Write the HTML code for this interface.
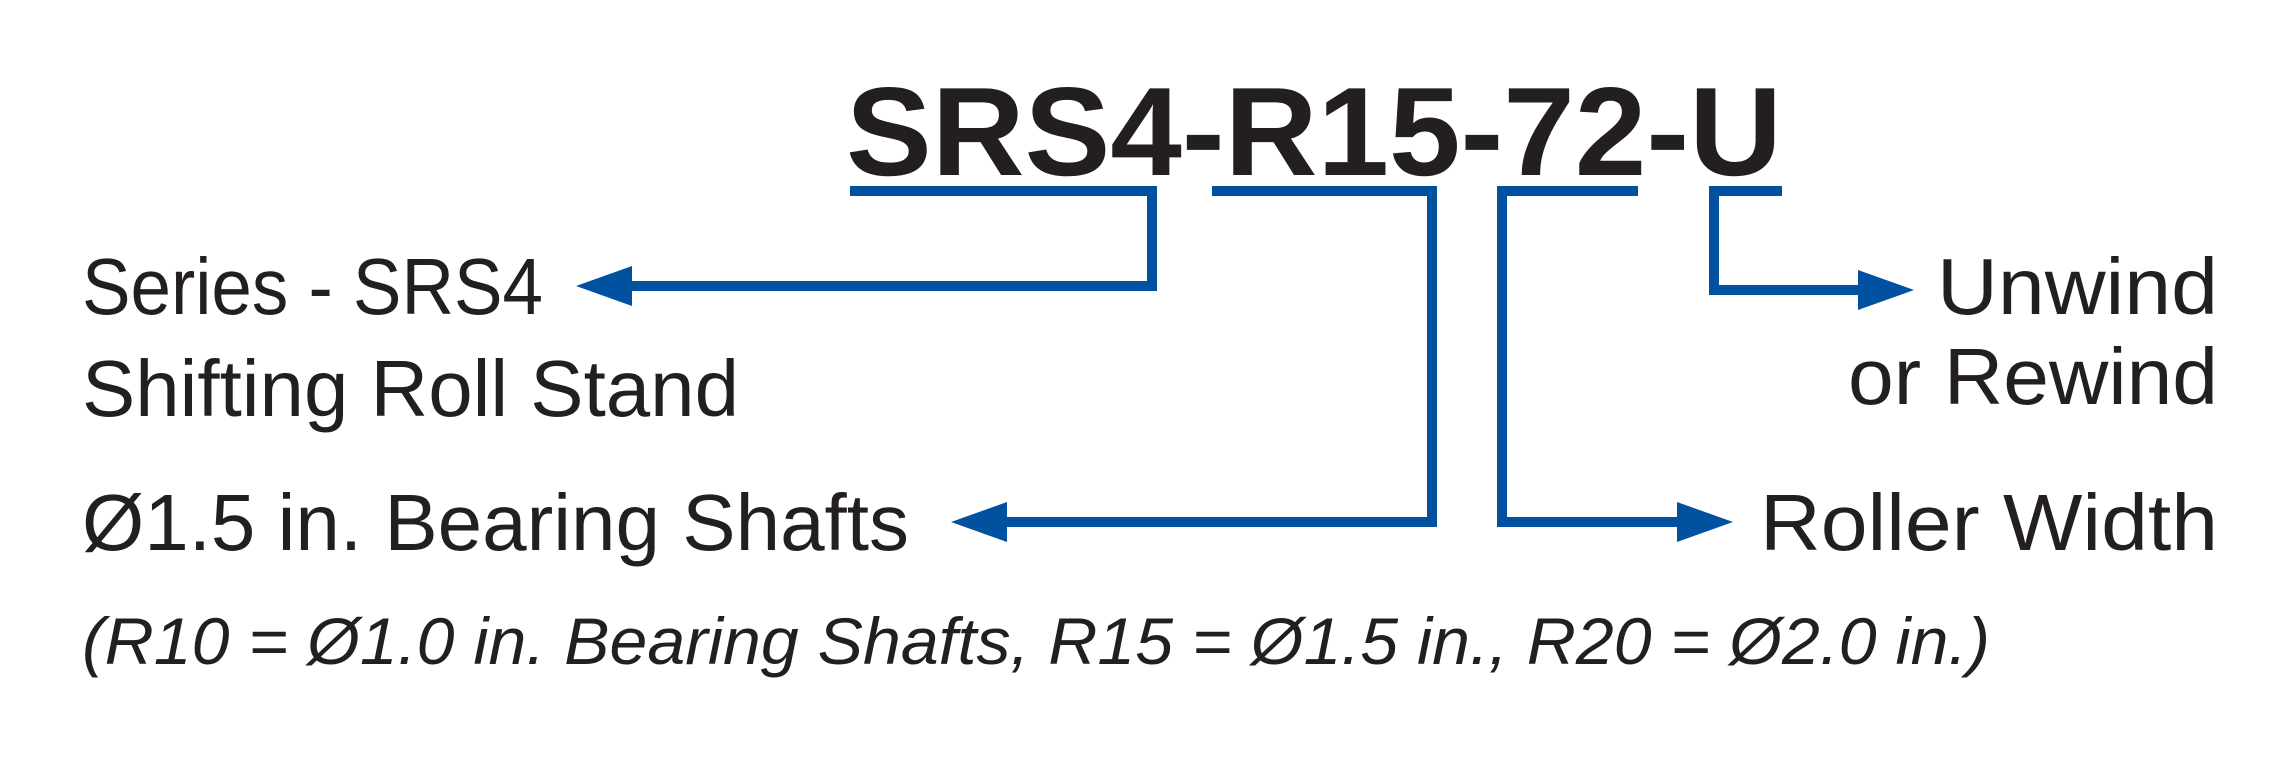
<!DOCTYPE html>
<html><head><meta charset="utf-8"><style>
html,body{margin:0;padding:0;background:#fff;}
svg{display:block;}
text{font-family:"Liberation Sans",sans-serif;fill:#231f20;}
</style></head><body>
<svg width="2287" height="760" viewBox="0 0 2287 760" xmlns="http://www.w3.org/2000/svg">
<text x="846" y="175" font-size="126" font-weight="bold" textLength="936" lengthAdjust="spacingAndGlyphs">SRS4-R15-72-U</text>
<g fill="none" stroke="#0052a0" stroke-width="10">
<polyline points="850,191 1152,191 1152,286 620,286"/>
<polyline points="1212,191 1432,191 1432,522 995,522"/>
<polyline points="1638,191 1502,191 1502,522 1690,522"/>
<polyline points="1782,191 1714,191 1714,290 1870,290"/>
</g>
<g fill="#0052a0">
<polygon points="576,286 632,266 632,306"/>
<polygon points="951,522 1007,502 1007,542"/>
<polygon points="1733,522 1677,502 1677,542"/>
<polygon points="1914,290 1858,270 1858,310"/>
</g>
<text x="82" y="314" font-size="80" textLength="461" lengthAdjust="spacingAndGlyphs">Series - SRS4</text>
<text x="82" y="416" font-size="80" textLength="657" lengthAdjust="spacingAndGlyphs">Shifting Roll Stand</text>
<text x="82" y="550" font-size="80" textLength="827" lengthAdjust="spacingAndGlyphs">Ø1.5 in. Bearing Shafts</text>
<text x="82" y="664" font-size="66" font-style="italic" textLength="1908" lengthAdjust="spacingAndGlyphs">(R10 = Ø1.0 in. Bearing Shafts, R15 = Ø1.5 in., R20 = Ø2.0 in.)</text>
<text x="1937" y="314" font-size="80" textLength="281" lengthAdjust="spacingAndGlyphs">Unwind</text>
<text x="1848" y="404" font-size="80" textLength="370" lengthAdjust="spacingAndGlyphs">or Rewind</text>
<text x="1760" y="550" font-size="80" textLength="458" lengthAdjust="spacingAndGlyphs">Roller Width</text>
</svg>
</body></html>
